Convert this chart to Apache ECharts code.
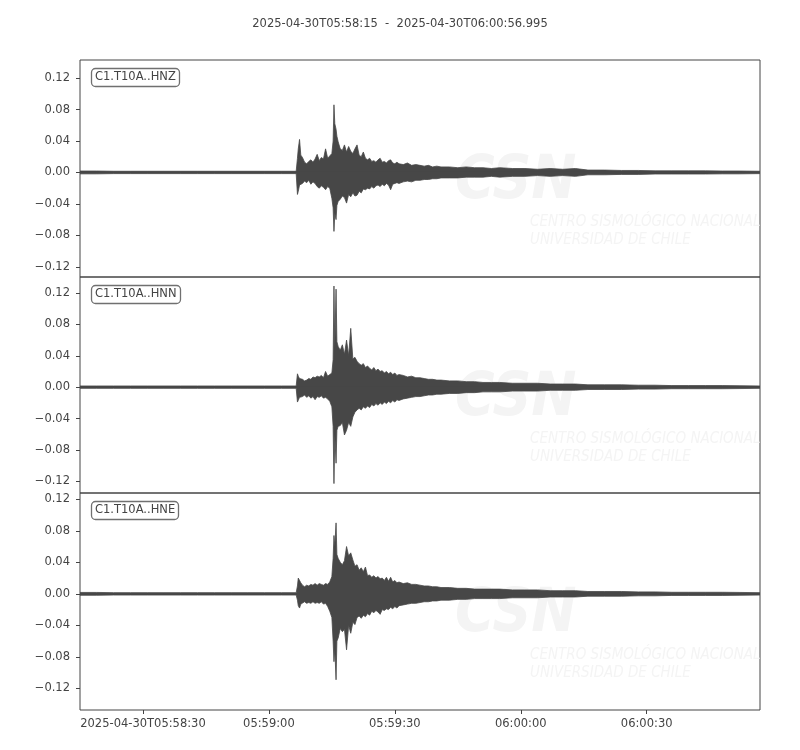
<!DOCTYPE html>
<html>
<head>
<meta charset="utf-8">
<script src="https://cdn.jsdelivr.net/npm/echarts@6/dist/echarts.min.js"></script>
<style>
html,body{margin:0;padding:0;background:#fff;}
#main{width:800px;height:750px;}
</style>
</head>
<body>
<div id="main"></div>
<script>
// seconds after 2025-04-30T05:58:15
var secs = [0, 4, 8, 12, 16, 20, 24, 28, 32, 36, 40, 44, 48, 51.5, 51.8,
    52.0, 52.3, 52.6, 53.0, 53.5, 54.0, 54.5, 55.0, 55.5, 56.0, 56.5, 57.0, 57.5, 58.0, 58.5, 59.0, 59.5, 60.0,
    60.3, 60.5, 60.7, 61.0, 61.2,
    61.5, 62.0, 62.5, 63.0, 63.5, 64.0, 64.5, 65.0, 65.5, 66.0, 66.5, 67.0, 67.5, 68.0, 68.5,
    69.0, 69.5, 70.0, 70.5, 71.0, 71.5, 72.0, 72.5, 73.0, 73.5, 74.0, 74.5, 75.0, 75.5, 76.0,
    77, 78, 79, 80, 81, 82, 83, 84, 85, 86, 88, 90, 92, 94, 96, 98, 100,
    103, 106, 109, 112, 115, 118, 121, 125, 129, 133, 137, 141, 145, 149, 153, 157, 161.995];

// upper / lower envelope of each trace
var hnzUp = [0.0018, 0.0018, 0.0015, 0.0015, 0.0015, 0.0015, 0.0015, 0.0015, 0.0015, 0.0015, 0.0015, 0.0015, 0.0015, 0.0015, 0.018,
    0.030, 0.042, 0.022, 0.019, 0.013, 0.011, 0.014, 0.016, 0.013, 0.017, 0.023, 0.015, 0.019, 0.017, 0.030, 0.018, 0.021, 0.024,
    0.040, 0.086, 0.062, 0.055, 0.046,
    0.039, 0.030, 0.028, 0.035, 0.026, 0.033, 0.027, 0.024, 0.030, 0.035, 0.022, 0.020, 0.026, 0.018, 0.016,
    0.018, 0.014, 0.015, 0.013, 0.016, 0.018, 0.013, 0.014, 0.012, 0.015, 0.016, 0.012, 0.011, 0.013, 0.011,
    0.010, 0.012, 0.009, 0.010, 0.009, 0.008, 0.009, 0.007, 0.008, 0.007, 0.007, 0.006, 0.007, 0.006, 0.006, 0.005, 0.006,
    0.005, 0.005, 0.004, 0.005, 0.004, 0.005, 0.003, 0.003, 0.0025, 0.0025, 0.002, 0.002, 0.002, 0.002, 0.0018, 0.0018, 0.0015];
var hnzLow = [-0.0018, -0.0018, -0.0015, -0.0015, -0.0015, -0.0015, -0.0015, -0.0015, -0.0015, -0.0015, -0.0015, -0.0015, -0.0015, -0.0015, -0.028,
    -0.024, -0.016, -0.017, -0.014, -0.011, -0.013, -0.010, -0.015, -0.012, -0.014, -0.018, -0.020, -0.017, -0.019, -0.022, -0.018, -0.020, -0.033,
    -0.045, -0.075, -0.052, -0.060, -0.042,
    -0.037, -0.034, -0.030, -0.032, -0.039, -0.028, -0.031, -0.026, -0.030, -0.029, -0.024, -0.026, -0.021, -0.022, -0.020,
    -0.021, -0.018, -0.020, -0.017, -0.016, -0.018, -0.015, -0.017, -0.014, -0.016, -0.022, -0.015, -0.014, -0.013, -0.014,
    -0.012, -0.011, -0.012, -0.010, -0.010, -0.009, -0.009, -0.008, -0.008, -0.007, -0.007, -0.007, -0.006, -0.006, -0.006, -0.005, -0.006,
    -0.005, -0.005, -0.004, -0.005, -0.004, -0.005, -0.003, -0.003, -0.0025, -0.0025, -0.002, -0.002, -0.002, -0.002, -0.0018, -0.0018, -0.0015];

var hnnUp = [0.0015, 0.0015, 0.0015, 0.0015, 0.0015, 0.0015, 0.0015, 0.0015, 0.0015, 0.0015, 0.0015, 0.0015, 0.0015, 0.0015, 0.017,
    0.014, 0.011, 0.009, 0.010, 0.008, 0.009, 0.011, 0.010, 0.013, 0.012, 0.014, 0.013, 0.015, 0.012, 0.020, 0.014, 0.016, 0.018,
    0.035, 0.129, 0.050, 0.125, 0.058,
    0.052, 0.047, 0.054, 0.042, 0.060, 0.040, 0.075, 0.036, 0.038, 0.033, 0.030, 0.028, 0.030, 0.025, 0.027,
    0.024, 0.022, 0.025, 0.021, 0.023, 0.020, 0.021, 0.018, 0.020, 0.017, 0.019, 0.016, 0.018, 0.015, 0.016,
    0.015, 0.013, 0.014, 0.012, 0.012, 0.011, 0.010, 0.010, 0.009, 0.009, 0.008, 0.008, 0.007, 0.007, 0.006, 0.006, 0.006,
    0.005, 0.005, 0.005, 0.004, 0.004, 0.004, 0.003, 0.003, 0.003, 0.0025, 0.0025, 0.002, 0.002, 0.002, 0.002, 0.0018, 0.0015];
var hnnLow = [-0.0015, -0.0015, -0.0015, -0.0015, -0.0015, -0.0015, -0.0015, -0.0015, -0.0015, -0.0015, -0.0015, -0.0015, -0.0015, -0.0015, -0.019,
    -0.021, -0.013, -0.011, -0.012, -0.010, -0.013, -0.011, -0.014, -0.012, -0.016, -0.012, -0.013, -0.011, -0.014, -0.013, -0.015, -0.018, -0.025,
    -0.050, -0.123, -0.060, -0.097, -0.055,
    -0.050, -0.049, -0.045, -0.061, -0.055, -0.045, -0.050, -0.038, -0.032, -0.029, -0.027, -0.029, -0.025, -0.027, -0.024,
    -0.026, -0.022, -0.024, -0.021, -0.023, -0.020, -0.022, -0.019, -0.021, -0.018, -0.020, -0.017, -0.019, -0.016, -0.017,
    -0.015, -0.014, -0.013, -0.012, -0.012, -0.011, -0.010, -0.010, -0.009, -0.009, -0.008, -0.008, -0.007, -0.007, -0.006, -0.006, -0.006,
    -0.005, -0.005, -0.005, -0.004, -0.004, -0.004, -0.003, -0.003, -0.003, -0.0025, -0.0025, -0.002, -0.002, -0.002, -0.002, -0.0018, -0.0015];

var hneUp = [0.0018, 0.0018, 0.0015, 0.0015, 0.0015, 0.0015, 0.0015, 0.0015, 0.0015, 0.0015, 0.0015, 0.0015, 0.0015, 0.0015, 0.010,
    0.020, 0.019, 0.014, 0.011, 0.009, 0.011, 0.010, 0.012, 0.011, 0.013, 0.011, 0.013, 0.012, 0.011, 0.013, 0.012, 0.015, 0.022,
    0.045, 0.074, 0.060, 0.090, 0.050,
    0.045, 0.040, 0.037, 0.042, 0.060, 0.048, 0.052, 0.043, 0.035, 0.037, 0.030, 0.033, 0.028, 0.034, 0.023,
    0.024, 0.021, 0.023, 0.020, 0.022, 0.019, 0.020, 0.017, 0.021, 0.016, 0.021, 0.015, 0.017, 0.014, 0.015,
    0.013, 0.014, 0.012, 0.012, 0.011, 0.010, 0.010, 0.009, 0.009, 0.008, 0.008, 0.007, 0.007, 0.006, 0.006, 0.006, 0.006,
    0.005, 0.005, 0.005, 0.004, 0.004, 0.004, 0.003, 0.003, 0.003, 0.0025, 0.0025, 0.002, 0.002, 0.002, 0.002, 0.0018, 0.0015];
var hneLow = [-0.0018, -0.0018, -0.0015, -0.0015, -0.0015, -0.0015, -0.0015, -0.0015, -0.0015, -0.0015, -0.0015, -0.0015, -0.0015, -0.0015, -0.008,
    -0.015, -0.018, -0.013, -0.011, -0.010, -0.012, -0.011, -0.012, -0.010, -0.012, -0.011, -0.012, -0.010, -0.013, -0.012, -0.016, -0.022, -0.030,
    -0.060, -0.086, -0.070, -0.109, -0.060,
    -0.056, -0.044, -0.048, -0.045, -0.071, -0.040, -0.050, -0.036, -0.039, -0.030, -0.028, -0.031, -0.027, -0.029, -0.025,
    -0.027, -0.022, -0.024, -0.021, -0.023, -0.026, -0.020, -0.021, -0.019, -0.020, -0.017, -0.019, -0.016, -0.018, -0.015,
    -0.014, -0.013, -0.012, -0.012, -0.011, -0.010, -0.010, -0.009, -0.009, -0.008, -0.008, -0.007, -0.007, -0.006, -0.006, -0.006, -0.006,
    -0.005, -0.005, -0.005, -0.004, -0.004, -0.004, -0.003, -0.003, -0.003, -0.0025, -0.0025, -0.002, -0.002, -0.002, -0.002, -0.0018, -0.0015];

var traceNames = ["C1.T10A..HNZ", "C1.T10A..HNN", "C1.T10A..HNE"];
var traceUp = [hnzUp, hnnUp, hneUp];
var traceLow = [hnzLow, hnnLow, hneLow];
var yRanges = [[-0.133, 0.143], [-0.135, 0.1405], [-0.1473, 0.1279]];
var yTicks = [-0.12, -0.08, -0.04, 0, 0.04, 0.08, 0.12];
var xTicks = [15, 45, 75, 105, 135];
var xTickLabels = ["2025-04-30T05:58:30", "05:59:00", "05:59:30", "06:00:00", "06:00:30"];

var font = "DejaVu Sans";
var fontSize = 11.5;
var waveColor = "#474747";
var tops = [60, 277, 493];
var heights = [217, 216, 217];

function pairs(vals)
{
    var out = [];
    for (var i = 0; i < secs.length; i++) out.push([secs[i], vals[i]]);
    return out;
}

// each half filled toward the other side a little, so no seam shows on the zero line
function waveSeries(idx, vals, origin)
{
    return {
        type: 'line', xAxisIndex: idx, yAxisIndex: idx,
        data: pairs(vals),
        showSymbol: false, silent: true, z: 3,
        lineStyle: {color: waveColor, width: 0.8},
        areaStyle: {color: waveColor, opacity: 1, origin: origin}
    };
}

var grids = [], xAxes = [], yAxes = [], titles = [], series = [], marks = [];

titles.push({
    text: "2025-04-30T05:58:15  -  2025-04-30T06:00:56.995",
    left: 'center', top: 13,
    textStyle: {fontFamily: font, fontSize: fontSize, fontWeight: 'normal', color: '#444'}
});

for (var p = 0; p < 3; p++)
{
    grids.push({left: 80, width: 680, top: tops[p], height: heights[p],
        show: true, borderColor: '#444', borderWidth: 1, backgroundColor: 'transparent'});

    var bottom = (p == 2);
    xAxes.push({
        type: 'value', gridIndex: p, min: 0, max: 161.995,
        axisLine: {show: false, onZero: false},
        splitLine: {show: false},
        axisTick: {show: bottom, customValues: xTicks, length: 4, lineStyle: {color: '#444'}},
        axisLabel: {
            show: bottom, customValues: xTicks, margin: 8,
            fontFamily: font, fontSize: fontSize, color: '#444',
            formatter: function (v) { return xTickLabels[xTicks.indexOf(Math.round(v))]; }
        }
    });

    yAxes.push({
        type: 'value', gridIndex: p, min: yRanges[p][0], max: yRanges[p][1],
        axisLine: {show: false, onZero: false},
        splitLine: {show: false},
        axisTick: {show: true, customValues: yTicks, length: 4, lineStyle: {color: '#444'}},
        axisLabel: {
            customValues: yTicks, margin: 10,
            fontFamily: font, fontSize: fontSize, color: '#444',
            formatter: function (v) { return v < 0 ? '\u2212' + Math.abs(v).toFixed(2) : v.toFixed(2); }
        }
    });

    titles.push({
        text: traceNames[p], left: 91, top: tops[p] + 8,
        padding: [3, 4, 4, 4],
        borderColor: '#707070', borderWidth: 1.3, borderRadius: 4,
        backgroundColor: '#fff',
        textStyle: {fontFamily: font, fontSize: fontSize, fontWeight: 'normal', color: '#444'}
    });

    // faint CSN watermark
    marks.push({type: 'text', left: 455, top: tops[p] + 92, z: 0, silent: true,
        style: {text: 'CSN', font: 'italic bold 60px "DejaVu Sans Condensed"', fill: '#f4f4f4'}});
    marks.push({type: 'text', left: 530, top: tops[p] + 153, z: 0, silent: true,
        style: {text: 'CENTRO SISMOLÓGICO NACIONAL\nUNIVERSIDAD DE CHILE', font: 'italic 15px "DejaVu Sans Condensed"',
            fill: '#f4f4f4', lineHeight: 18}});

    series.push(waveSeries(p, traceUp[p], -0.0012));
    series.push(waveSeries(p, traceLow[p], 0.0012));
}

var myChart = echarts.init(document.getElementById('main'), null, {renderer: 'canvas'});
myChart.setOption({
    animation: false,
    backgroundColor: '#fff',
    title: titles,
    grid: grids,
    xAxis: xAxes,
    yAxis: yAxes,
    graphic: marks,
    series: series
});
</script>
</body>
</html>
